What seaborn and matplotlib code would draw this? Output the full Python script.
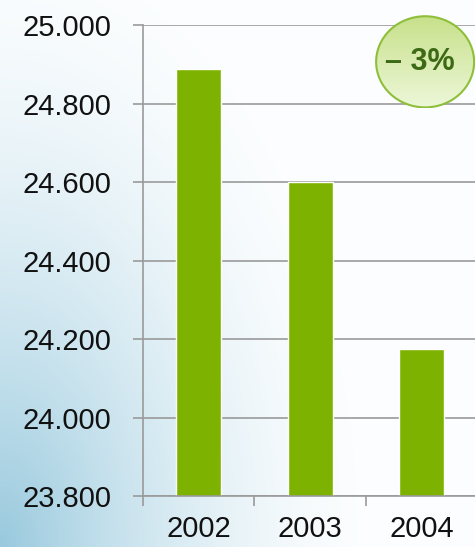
import numpy as np
import pandas as pd
import matplotlib
matplotlib.use('Agg')
import matplotlib.pyplot as plt
import matplotlib.ticker as mticker
from matplotlib.patches import Ellipse
import seaborn as sns

# data
years = ['2002', '2003', '2004']
values = [24887, 24600, 24175]
change_label = '\u2013 3%'
y_min, y_max, y_step = 23800, 25000, 200

df = pd.DataFrame({'year': years, 'value': values})

sns.set_style('white')
plt.rcParams['font.family'] = ['Liberation Sans', 'DejaVu Sans']

fig = plt.figure(figsize=(4.75, 5.47), dpi=100)

# light blue slide background, stronger towards the bottom left
bg = fig.add_axes([0, 0, 1, 1], zorder=-10)
gx, gy = np.meshgrid(np.linspace(0, 1, 200), np.linspace(1, 0, 230))
d = np.sqrt((gx * 1.3) ** 2 + (gy * 0.9) ** 2)
t = np.clip(1 - d / 1.0, 0, 1) ** 1.6
base = np.array([0.985, 0.993, 0.997])
blue = np.array([0.60, 0.79, 0.87])
img = base[None, None, :] * (1 - t[..., None]) + blue[None, None, :] * t[..., None]
bg.imshow(img, aspect='auto', extent=[0, 1, 0, 1])
bg.axis('off')

ax = fig.add_axes([0.301, 0.0932, 0.7042, 0.861])
ax.set_facecolor('none')

sns.barplot(ax=ax, data=df, x='year', y='value', color='#7db200',
            width=0.4, saturation=1, errorbar=None)

grey = '#9a9a9a'
ax.set_ylim(y_min, y_max)
ax.set_xlim(-0.5, 2.5)
ax.set_yticks(np.arange(y_min, y_max + 1, y_step))
ax.yaxis.set_major_formatter(
    mticker.FuncFormatter(lambda v, p: f'{v:,.0f}'.replace(',', '.')))
ax.yaxis.grid(True, color=grey, lw=1.2)
ax.set_axisbelow(True)

ax.set_xlabel('')
ax.set_ylabel('')
ax.xaxis.set_minor_locator(mticker.FixedLocator([-0.5, 0.5, 1.5, 2.5]))
ax.tick_params(axis='y', which='major', direction='out', length=7.2,
               width=1.2, color=grey, pad=15.5, labelsize=21,
               labelcolor='#111111', left=True)
ax.tick_params(axis='x', which='major', length=0, pad=14,
               labelsize=21, labelcolor='#111111')
ax.tick_params(axis='x', which='minor', direction='out', length=7.2,
               width=1.2, color=grey, bottom=True)

for s in ['top', 'right']:
    ax.spines[s].set_visible(False)
for s in ['left', 'bottom']:
    ax.spines[s].set_color(grey)
    ax.spines[s].set_linewidth(1.2)

# percentage bubble with a soft green gradient
bx, by, bw, bh = 0.895, 0.887, 0.2105, 0.170
bub_ax = fig.add_axes([bx - bw / 2, by - bh / 2, bw, bh], zorder=5)
bub_ax.axis('off')
grad = np.linspace(0, 1, 100)[:, None]
top_c = np.array([0.78, 0.88, 0.54])
bot_c = np.array([0.93, 0.97, 0.85])
bub_img = top_c[None, None, :] * (1 - grad[..., None]) + bot_c[None, None, :] * grad[..., None]
bub_img = np.repeat(bub_img, 10, axis=1)
im = bub_ax.imshow(bub_img, aspect='auto', extent=[0, 1, 0, 1])
bub_ax.set_xlim(0, 1)
bub_ax.set_ylim(0, 1)
shape = Ellipse((0.5, 0.5), 0.98, 0.98, transform=bub_ax.transAxes,
                facecolor='none', edgecolor='#8fbf3a', lw=1.5)
bub_ax.add_patch(shape)
im.set_clip_path(shape)
bub_ax.text(0.45, 0.5, change_label, ha='center', va='center',
            transform=bub_ax.transAxes, fontsize=22, fontweight='bold',
            color='#3d6a15')

plt.savefig('out.png', dpi=100)
